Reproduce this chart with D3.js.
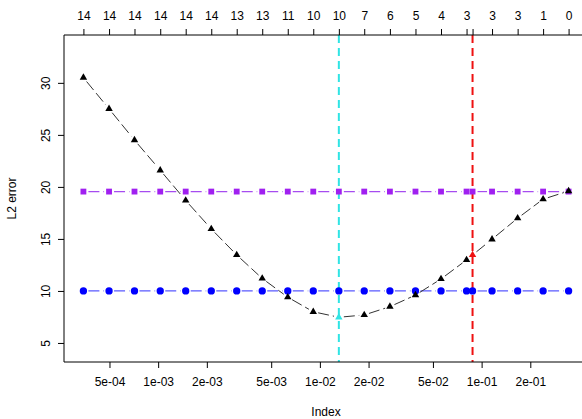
<!DOCTYPE html>
<html>
<head>
<meta charset="utf-8">
<script src="https://cdn.jsdelivr.net/npm/d3@7"></script>
<style>
  body { margin: 0; background: #fff; }
  svg { display: block; font-family: "Liberation Sans", Arial, sans-serif; }
</style>
</head>
<body>
<svg id="chart" width="582" height="419"></svg>
<script>
// values
var lambda = [3.45e-4, 4.97e-4, 7.14e-4, 1.03e-3, 1.48e-3, 2.13e-3, 3.06e-3, 4.40e-3, 6.33e-3, 9.10e-3,
    1.31e-2, 1.88e-2, 2.71e-2, 3.90e-2, 5.61e-2, 8.07e-2, 8.79e-2, 0.116, 0.167, 0.240, 0.345];
var nonzero = [14, 14, 14, 14, 14, 14, 13, 13, 11, 10, 10, 7, 6, 5, 4, 3, 3, 3, 1, 0];
nonzero.splice(16, 0, 3);
var l2Error = [30.5, 27.5, 24.5, 21.6, 18.7, 15.96, 13.46, 11.2, 9.4, 8.0,
    7.47, 7.69, 8.49, 9.6, 11.15, 12.98, 13.46, 14.97, 16.99, 18.82, 19.6];
var upperRef = [19.55, 19.55, 19.55, 19.55, 19.55, 19.55, 19.55, 19.55, 19.55, 19.55,
    19.55, 19.55, 19.55, 19.55, 19.55, 19.55, 19.55, 19.55, 19.55, 19.55, 19.55];
var lowerRef = [10, 10, 10, 10, 10, 10, 10, 10, 10, 10,
    10, 10, 10, 10, 10, 10, 10, 10, 10, 10, 10];
var lambdaMin = 1.31e-2,
    lambdaSel = 8.79e-2;
var xTickValues = [5e-4, 1e-3, 2e-3, 5e-3, 1e-2, 2e-2, 5e-2, 1e-1, 2e-1];
var yTickValues = [5, 10, 15, 20, 25, 30];

var svg = d3.select('#chart');
var plot = {left: 64, right: 588, top: 35, bottom: 362};

var lo = Math.log10(d3.min(lambda)),
    hi = Math.log10(d3.max(lambda)),
    pad = 0.04 * (hi - lo);
var x = d3.scaleLog()
    .domain([Math.pow(10, lo - pad), Math.pow(10, hi + pad)])
    .range([plot.left, plot.right]);
var y = d3.scaleLinear()
    .domain([3.17, 34.6])
    .range([plot.bottom, plot.top]);

svg.append('rect').attr('width', 582).attr('height', 419).attr('fill', '#fff');

// vertical reference lines
[[lambdaMin, '#30e4e4'], [lambdaSel, '#ee1111']].forEach(function (d) {
    svg.append('line')
        .attr('x1', x(d[0])).attr('x2', x(d[0]))
        .attr('y1', plot.top).attr('y2', plot.bottom)
        .attr('stroke', d[1])
        .attr('stroke-width', 2)
        .attr('stroke-dasharray', '8,5');
});

// type="b" style: segments with a gap around each point
function drawSeries(values, color, width) {
    var g = svg.append('g');
    for (var i = 0; i < lambda.length - 1; i++) {
        var x1 = x(lambda[i]), y1 = y(values[i]),
            x2 = x(lambda[i + 1]), y2 = y(values[i + 1]);
        var len = Math.sqrt((x2 - x1) * (x2 - x1) + (y2 - y1) * (y2 - y1));
        var gap = 5;
        if (len <= 2 * gap) continue;
        var ux = (x2 - x1) / len, uy = (y2 - y1) / len;
        g.append('line')
            .attr('x1', x1 + ux * gap).attr('y1', y1 + uy * gap)
            .attr('x2', x2 - ux * gap).attr('y2', y2 - uy * gap)
            .attr('stroke', color)
            .attr('stroke-width', width)
            .attr('stroke-dasharray', '11,4');
    }
    return g;
}

drawSeries(upperRef, '#a64cf0', 1.2);
drawSeries(lowerRef, '#5a5aff', 1.2);
drawSeries(l2Error, '#333', 1);

var square = d3.symbol().type(d3.symbolSquare).size(34),
    circle = d3.symbol().type(d3.symbolCircle).size(42),
    triangle = d3.symbol().type(d3.symbolTriangle).size(24);

svg.append('g').selectAll('path')
    .data(upperRef)
    .enter().append('path')
    .attr('d', square)
    .attr('transform', function (d, i) { return 'translate(' + x(lambda[i]) + ',' + y(d) + ')'; })
    .attr('fill', '#a020f0');

svg.append('g').selectAll('path')
    .data(lowerRef)
    .enter().append('path')
    .attr('d', circle)
    .attr('transform', function (d, i) { return 'translate(' + x(lambda[i]) + ',' + y(d) + ')'; })
    .attr('fill', '#0000ff');

svg.append('g').selectAll('path')
    .data(l2Error)
    .enter().append('path')
    .attr('d', triangle)
    .attr('transform', function (d, i) { return 'translate(' + x(lambda[i]) + ',' + y(d) + ')'; })
    .attr('fill', function (d, i) {
        if (lambda[i] === lambdaMin) return '#30e4e4';
        if (lambda[i] === lambdaSel) return '#ee1111';
        return '#000';
    });

// box
svg.append('path')
    .attr('d', 'M' + plot.right + ',' + plot.top + 'H' + plot.left + 'V' + plot.bottom + 'H' + plot.right)
    .attr('fill', 'none')
    .attr('stroke', '#000')
    .attr('stroke-width', 1);

// bottom axis
var bottomAxis = svg.append('g')
    .attr('transform', 'translate(0,' + plot.bottom + ')')
    .call(d3.axisBottom(x).tickValues(xTickValues).tickSize(6).tickPadding(9)
        .tickFormat(function (d) { return d.toExponential(0).replace(/e([+-])(\d)$/, 'e$10$2'); }));

// top axis: number of nonzero coefficients
var topAxis = svg.append('g')
    .attr('transform', 'translate(0,' + plot.top + ')')
    .call(d3.axisTop(x).tickValues(lambda).tickSize(6).tickPadding(9)
        .tickFormat(function (d, i) { return nonzero[i]; }));

// left axis
var leftAxis = svg.append('g')
    .attr('transform', 'translate(' + plot.left + ',0)')
    .call(d3.axisLeft(y).tickValues(yTickValues).tickSize(6).tickPadding(0));

[bottomAxis, topAxis, leftAxis].forEach(function (a) {
    a.select('.domain').remove();
    a.selectAll('line').attr('stroke', '#000');
    a.selectAll('text').attr('font-size', 12).attr('fill', '#000')
        .attr('font-family', '"Liberation Sans", Arial, sans-serif');
});

leftAxis.selectAll('text')
    .attr('transform', 'translate(-18,0) rotate(-90)')
    .attr('x', 0).attr('dy', '0.35em')
    .style('text-anchor', 'middle');

// hide top labels that would overlap, as R does
var lastRight = -Infinity;
topAxis.selectAll('.tick').each(function (d, i) {
    var t = d3.select(this).select('text');
    var w = t.node().getComputedTextLength();
    var cx = x(d);
    if (cx - w / 2 < lastRight + 4) {
        t.remove();
    } else {
        lastRight = cx + w / 2;
    }
});

svg.append('text')
    .attr('x', (plot.left + plot.right) / 2)
    .attr('y', 416)
    .attr('text-anchor', 'middle')
    .attr('font-size', 12)
    .text('Index');

svg.append('text')
    .attr('transform', 'translate(16,' + ((plot.top + plot.bottom) / 2) + ') rotate(-90)')
    .attr('text-anchor', 'middle')
    .attr('font-size', 12)
    .text('L2 error');
</script>
</body>
</html>
